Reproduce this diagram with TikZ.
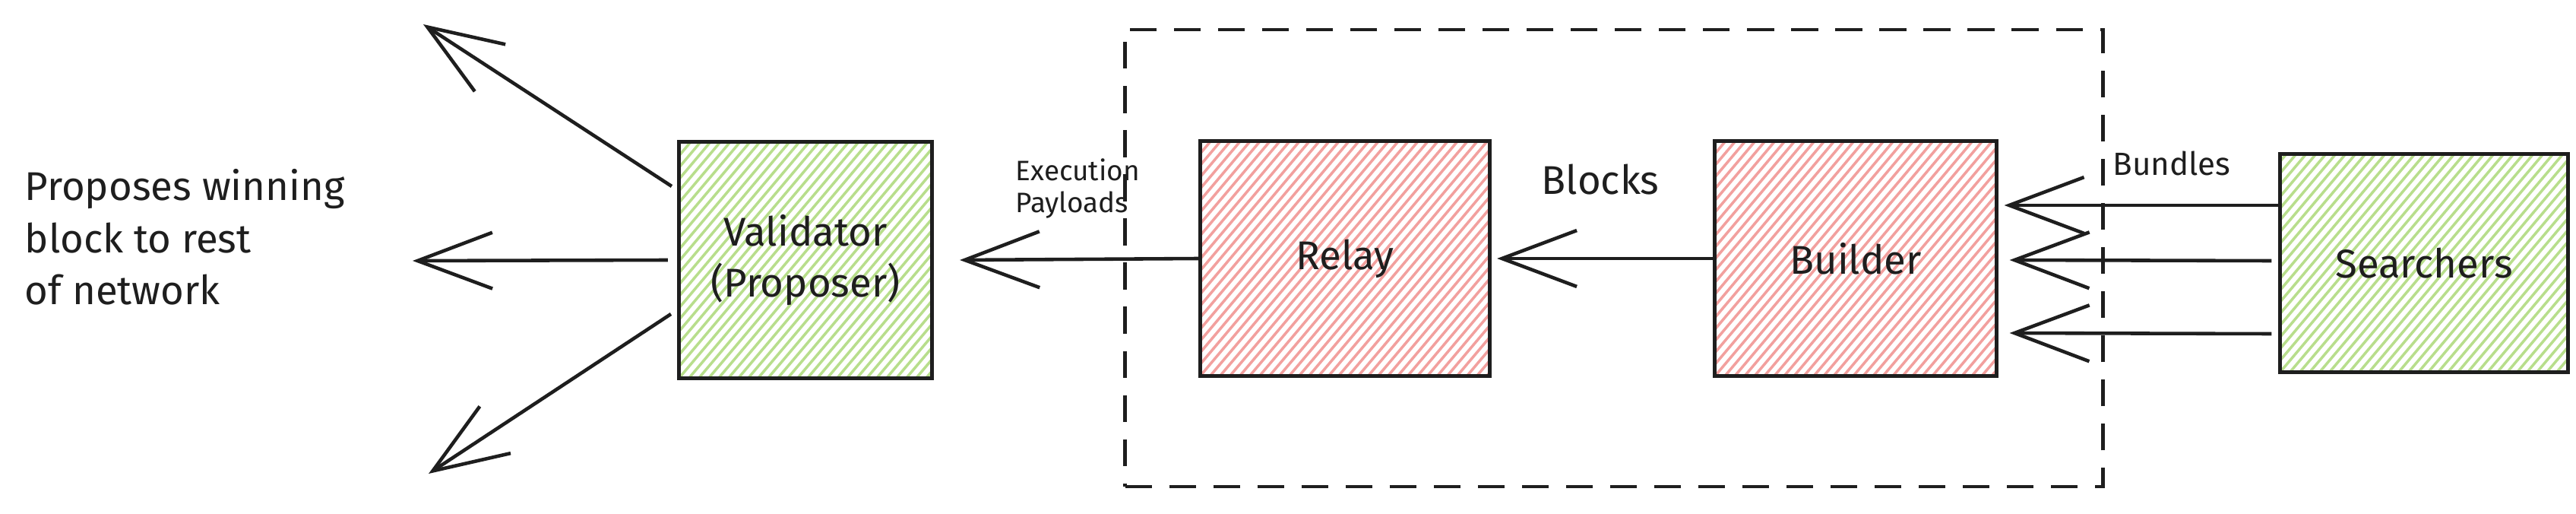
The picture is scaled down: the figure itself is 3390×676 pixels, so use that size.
\documentclass[tikz,border=0pt]{standalone}
\usepackage{fontspec}
\setmainfont{Fira Sans}
\usetikzlibrary{arrows.meta,calc}
\definecolor{ink}{RGB}{30,30,30}
\definecolor{hatchred}{RGB}{242,160,158}
\definecolor{hatchgreen}{RGB}{184,222,140}
\tikzset{
  hatched/.style={path picture={
    \foreach \k in {-34,...,34}{
      \draw[#1, line width=1pt]
        ($(path picture bounding box.south west)+(\k*13,0)$) -- ++(380,-450);
    }}},
  boxnode/.style={draw=ink, line width=1.4pt, inner sep=0pt, align=center,
    font=\fontsize{15}{19}\selectfont, text=ink},
  arr/.style={draw=ink, line width=1.3pt,
    -{Straight Barb[length=28pt,width=21pt]}},
  lbl/.style={text=ink, inner sep=0pt},
  groupbox/.style={draw=ink, line width=1.3pt, dash pattern=on 10pt off 6.5pt}
}
\begin{document}
\begin{tikzpicture}[x=0.01cm,y=-0.01cm]
\useasboundingbox (0,0) rectangle (3390,676);
% group
\node[groupbox, minimum width=12.86cm, minimum height=6.01cm, inner sep=0pt] (grp) at (2124,339.5) {};
% boxes
\node[boxnode, hatched=hatchgreen, minimum width=3.33cm, minimum height=3.11cm] (val) at (1060,342) {Validator\\(Proposer)};
\node[boxnode, hatched=hatchred, minimum width=3.81cm, minimum height=3.09cm] (rel) at (1770,340) {Relay};
\node[boxnode, hatched=hatchred, minimum width=3.70cm, minimum height=3.09cm] (bld) at (2442,340) {Builder};
\node[boxnode, hatched=hatchgreen, minimum width=3.78cm, minimum height=2.86cm] (sea) at (3190,346) {Searchers};
% labels
\node[lbl, anchor=west, align=left, font=\fontsize{15}{19.5}\selectfont] (prop) at (32,312) {Proposes winning\\block to rest\\of network};
\node[lbl, anchor=west, align=left, font=\fontsize{10.5}{12}\selectfont] (exec) at (1336,248) {Execution\\Payloads};
\node[lbl, font=\fontsize{15}{18}\selectfont] (blk) at (2106,236) {Blocks};
\node[lbl, font=\fontsize{12}{14}\selectfont] (bun) at (2858,215) {Bundles};
% outward arrows
\coordinate (t1) at (557,32);
\coordinate (t2) at (543,343);
\coordinate (t3) at (564,623);
\draw[arr] ($(val.west)+(-7,-97)$) -- (t1);
\draw[arr] ($(val.west)+(-12,0)$) -- (t2);
\draw[arr] ($(val.west)+(-8,71)$) -- (t3);
% flow arrows
\draw[arr] (rel.west) -- ($(val.east)+(34,0)$);
\draw[arr] (bld.west) -- ($(rel.east)+(7,0)$);
\draw[arr] ($(sea.west)+(0,-76)$) -- ($(bld.east)+(8,-70)$);
\draw[arr] ($(sea.west)+(-9,-3)$) -- ($(bld.east)+(15,2)$);
\draw[arr] ($(sea.west)+(-9,93)$) -- ($(bld.east)+(15,98)$);
\end{tikzpicture}
\end{document}
